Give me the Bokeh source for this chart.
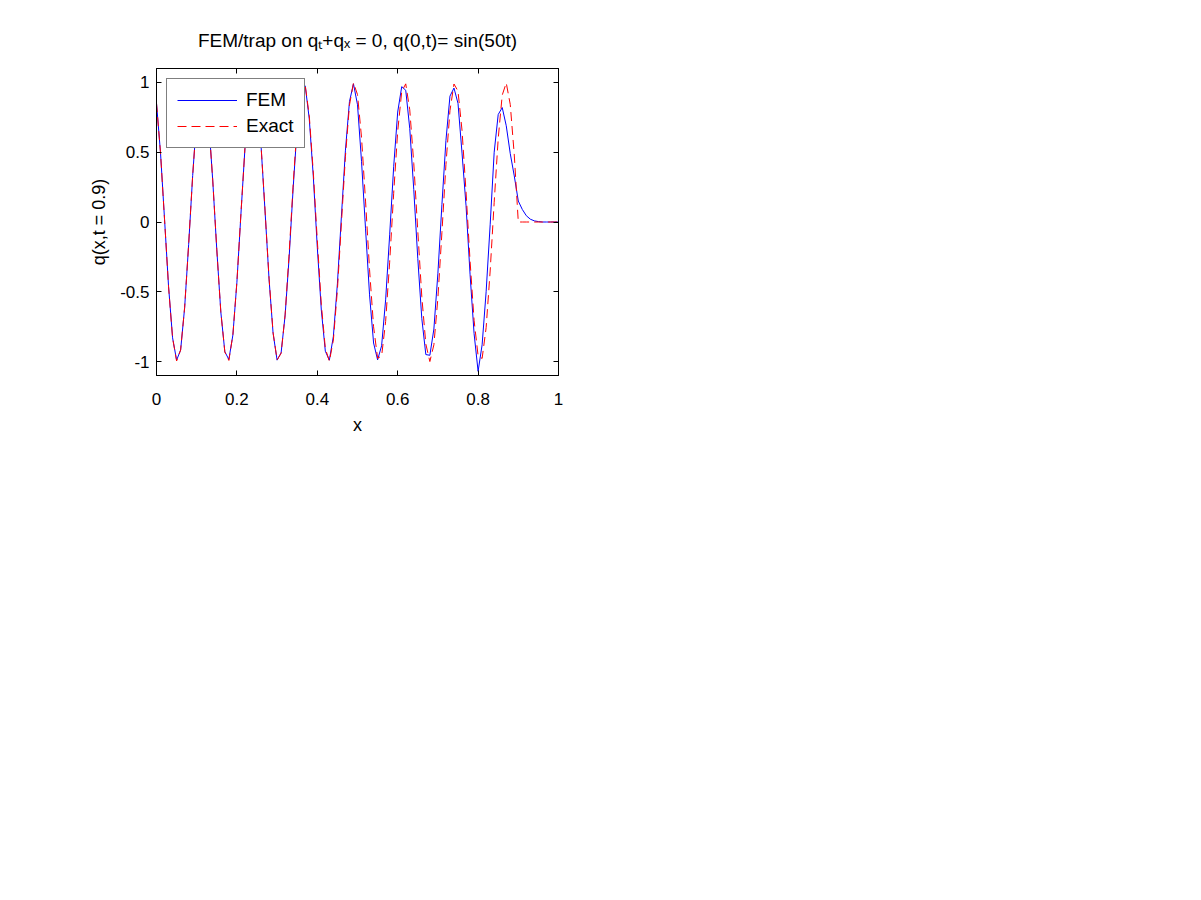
from bokeh.plotting import figure
from bokeh.models import (Range1d, FixedTicker, LinearAxis, CustomJSTickFormatter,
                          Legend, LegendItem)
from bokeh.embed import file_html
from bokeh.resources import INLINE

# ---------------- data ----------------
x_nodes = [0.00, 0.01, 0.02, 0.03, 0.04, 0.05, 0.06, 0.07, 0.08, 0.09,
           0.10, 0.11, 0.12, 0.13, 0.14, 0.15, 0.16, 0.17, 0.18, 0.19,
           0.20, 0.21, 0.22, 0.23, 0.24, 0.25, 0.26, 0.27, 0.28, 0.29,
           0.30, 0.31, 0.32, 0.33, 0.34, 0.35, 0.36, 0.37, 0.38, 0.39,
           0.40, 0.41, 0.42, 0.43, 0.44, 0.45, 0.46, 0.47, 0.48, 0.49,
           0.50, 0.51, 0.52, 0.53, 0.54, 0.55, 0.56, 0.57, 0.58, 0.59,
           0.60, 0.61, 0.62, 0.63, 0.64, 0.65, 0.66, 0.67, 0.68, 0.69,
           0.70, 0.71, 0.72, 0.73, 0.74, 0.75, 0.76, 0.77, 0.78, 0.79,
           0.80, 0.81, 0.82, 0.83, 0.84, 0.85, 0.86, 0.87, 0.88, 0.89,
           0.90, 0.91, 0.92, 0.93, 0.94, 0.95, 0.96, 0.97, 0.98, 0.99, 1.00]

q_exact = [0.851, 0.495, 0.018, -0.464, -0.831, -0.996, -0.917, -0.613, -0.158, 0.335,
           0.745, 0.974, 0.964, 0.718, 0.296, -0.198, -0.643, -0.932, -0.992, -0.809,
           -0.428, 0.058, 0.529, 0.871, 1.000, 0.884, 0.552, 0.084, -0.404, -0.793,
           -0.988, -0.941, -0.663, -0.224, 0.271, 0.700, 0.956, 0.979, 0.762, 0.359,
           -0.132, -0.591, -0.906, -0.998, -0.846, -0.487, -0.009, 0.471, 0.837, 0.997,
           0.913, 0.606, 0.150, -0.342, -0.751, -0.976, -0.961, -0.712, -0.288, 0.206,
           0.650, 0.935, 0.990, 0.804, 0.420, -0.066, -0.536, -0.875, -1.000, -0.880,
           -0.544, -0.075, 0.412, 0.798, 0.989, 0.938, 0.657, 0.215, -0.279, -0.705,
           -0.959, -0.978, -0.757, -0.351, 0.141, 0.598, 0.909, 0.997, 0.842, 0.480,
           0.000, 0.0, 0.0, 0.0, 0.0, 0.0, 0.0, 0.0, 0.0, 0.0, 0.0]

q_fem = [0.851, 0.495, 0.020, -0.462, -0.830, -0.990, -0.918, -0.615, -0.160, 0.333,
         0.744, 0.970, 0.960, 0.716, 0.293, -0.200, -0.645, -0.930, -0.985, -0.810,
         -0.432, 0.055, 0.527, 0.870, 0.995, 0.880, 0.548, 0.078, -0.410, -0.797,
         -0.990, -0.937, -0.668, -0.250, 0.245, 0.680, 0.950, 0.975, 0.740, 0.330,
         -0.182, -0.631, -0.926, -0.990, -0.819, -0.443, 0.041, 0.515, 0.863, 0.990,
         0.840, 0.435, -0.049, -0.522, -0.867, -0.988, -0.887, -0.558, -0.092, 0.396,
         0.788, 0.970, 0.944, 0.670, 0.232, -0.263, -0.693, -0.950, -0.955, -0.767,
         -0.367, 0.124, 0.585, 0.902, 0.960, 0.850, 0.494, 0.117, -0.374, -0.800,
         -1.070, -0.880, -0.500, -0.020, 0.500, 0.770, 0.820, 0.690, 0.490, 0.330,
         0.150, 0.090, 0.045, 0.020, 0.008, 0.003, 0.0, 0.0, 0.0, 0.0, 0.0]

x_ticks = [0, 0.2, 0.4, 0.6, 0.8, 1]
y_ticks = [-1, -0.5, 0, 0.5, 1]

title_text = "FEM/trap on q\u209c+q\u2093 = 0, q(0,t)= sin(50t)"
x_label = "x"
y_label = "q(x,t = 0.9)"

# ---------------- figure ----------------
FONT = "Liberation Sans"
W, H = 1180, 880
FRAME_L, FRAME_R, FRAME_T, FRAME_B = 156, 558, 68, 375

p = figure(width=W, height=H, output_backend="svg", toolbar_location=None,
           x_range=Range1d(0, 1), y_range=Range1d(-1.1, 1.1),
           min_border_left=FRAME_L, min_border_right=W - FRAME_R,
           min_border_top=FRAME_T, min_border_bottom=H - FRAME_B,
           title=title_text)

p.grid.visible = False
p.outline_line_color = "black"
p.outline_line_width = 1
p.background_fill_color = "white"
p.border_fill_color = "white"

p.title.text_font = FONT
p.title.text_font_size = "19px"
p.title.text_font_style = "normal"
p.title.text_color = "black"
p.title.align = "center"
p.title.standoff = 35

fmt = CustomJSTickFormatter(code="return tick.toString();")


def style_axis(ax, ticks, show_labels):
    ax.ticker = FixedTicker(ticks=ticks)
    ax.formatter = fmt
    ax.major_tick_in = 5
    ax.major_tick_out = 0
    ax.minor_tick_line_color = None
    ax.axis_line_color = "black"
    ax.major_tick_line_color = "black"
    ax.major_label_text_font = FONT
    ax.axis_label_text_font = FONT
    ax.axis_label_text_font_style = "normal"
    ax.axis_label_text_color = "black"
    ax.axis_label_text_font_size = "18px"
    if show_labels:
        ax.major_label_text_color = "black"
        ax.major_label_text_font_size = "17px"
    else:
        ax.major_label_text_color = None
        ax.major_label_text_font_size = "0px"
        ax.major_label_standoff = 0


style_axis(p.xaxis[0], x_ticks, True)
style_axis(p.yaxis[0], y_ticks, True)
p.xaxis[0].axis_label = x_label
p.yaxis[0].axis_label = y_label
p.xaxis[0].major_label_standoff = 17
p.xaxis[0].axis_label_standoff = 7
p.yaxis[0].major_label_standoff = 7
p.yaxis[0].axis_label_standoff = 8

top_ax = LinearAxis()
style_axis(top_ax, x_ticks, False)
p.add_layout(top_ax, "above")
right_ax = LinearAxis()
style_axis(right_ax, y_ticks, False)
p.add_layout(right_ax, "right")

r_fem = p.line(x_nodes, q_fem, line_color="#0000ff", line_width=1)
r_ex = p.line(x_nodes, q_exact, line_color="#ff0000", line_width=1, line_dash="9 5")

legend = Legend(items=[LegendItem(label="FEM", renderers=[r_fem]),
                       LegendItem(label="Exact", renderers=[r_ex])],
                location="top_left")
legend.margin = 10
legend.padding = 10
legend.spacing = 4
legend.glyph_width = 60
legend.glyph_height = 22
legend.label_height = 22
legend.label_standoff = 9
legend.label_text_font = FONT
legend.label_text_font_size = "19px"
legend.label_text_color = "black"
legend.border_line_color = "black"
legend.border_line_width = 1
legend.background_fill_color = "white"
legend.background_fill_alpha = 1.0
p.add_layout(legend)

open("out.html", "w").write(file_html(p, INLINE))
